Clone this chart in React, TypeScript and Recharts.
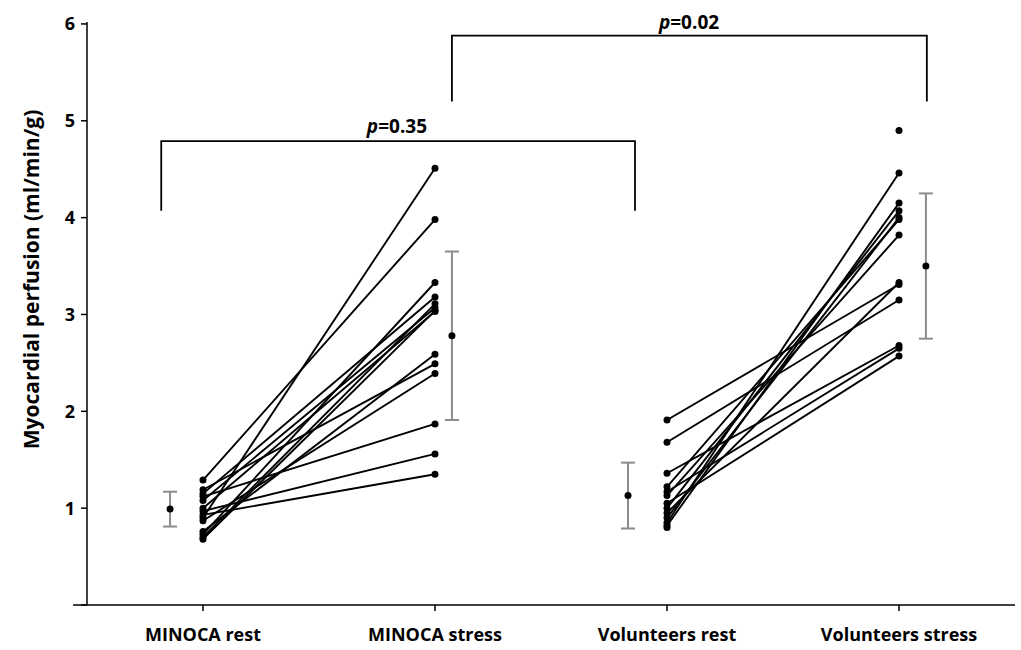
import React from 'react';
import { ComposedChart, Scatter, XAxis, YAxis, ErrorBar, ReferenceLine } from 'recharts';

const categories = ['MINOCA rest', 'MINOCA stress', 'Volunteers rest', 'Volunteers stress'];
const yTicks = [0, 1, 2, 3, 4, 5, 6];

// paired subjects: [rest, stress]
const minocaRest = [0.9, 1.29, 0.73, 1.15, 0.7, 1.08, 0.68, 1.0, 0.76, 1.19, 0.87, 1.12, 0.97, 0.93];
const minocaStress = [4.51, 3.98, 3.33, 3.18, 3.11, 3.07, 3.04, 3.03, 2.59, 2.49, 2.39, 1.87, 1.56, 1.35];
const volRest = [1.91, 1.68, 1.36, 1.22, 1.17, 1.13, 1.05, 1.0, 0.95, 0.9, 0.85, 0.82];
const volStress = [3.31, 3.15, 2.68, 3.98, 2.65, 3.82, 2.57, 4.07, 3.33, 4.0, 4.46, 4.15];
const unpairedPoints = [{ x: 3, y: 0.8 }, { x: 4, y: 4.9 }];

const means = [
  { x: 0.858, y: 0.99, err: [0.18, 0.18] },
  { x: 2.073, y: 2.78, err: [0.87, 0.87] },
  { x: 2.832, y: 1.13, err: [0.34, 0.34] },
  { x: 4.116, y: 3.5, err: [0.75, 0.75] },
];

const bracket1 = [{ x: 0.82, y: 4.07 }, { x: 0.82, y: 4.79 }, { x: 2.862, y: 4.79 }, { x: 2.862, y: 4.07 }];
const bracket2 = [{ x: 2.073, y: 5.2 }, { x: 2.073, y: 5.88 }, { x: 4.12, y: 5.88 }, { x: 4.12, y: 5.2 }];
const pLabels = [
  { x: 1.836, y: 4.95, text: '=0.35' },
  { x: 3.095, y: 6.02, text: '=0.02' },
];

const FONT = '"Open Sans", "Liberation Sans", sans-serif';

const Dot = (props: any) => <circle cx={props.cx} cy={props.cy} r={3.5} fill="#000" />;
const Nothing = () => <g />;
const PText = (props: any) => (
  <text
    x={props.cx}
    y={props.cy}
    textAnchor="middle"
    dominantBaseline="central"
    fontFamily={FONT}
    fontWeight="bold"
    fontSize={19}
    fill="#000"
  >
    <tspan fontStyle="italic">p</tspan>
    {props.payload.text}
  </text>
);

export default function App() {
  const pairs: { x: number; y: number }[][] = [];
  minocaRest.forEach((r, i) => pairs.push([{ x: 1, y: r }, { x: 2, y: minocaStress[i] }]));
  volRest.forEach((r, i) => pairs.push([{ x: 3, y: r }, { x: 4, y: volStress[i] }]));

  return (
    <div style={{ position: 'absolute', left: 0, top: 0, background: '#fff' }}>
      <ComposedChart width={1021} height={650} margin={{ top: 22, right: 6, bottom: 5, left: 0 }}>
        <XAxis
          type="number"
          dataKey="x"
          domain={[0.5, 4.5]}
          ticks={[1, 2, 3, 4]}
          tickFormatter={(v: number) => categories[v - 1]}
          height={40}
          tickSize={6}
          tickMargin={17}
          axisLine={{ stroke: '#000', strokeWidth: 1.5 }}
          tickLine={{ stroke: '#000', strokeWidth: 1.5 }}
          tick={{ fill: '#000', fontFamily: FONT, fontWeight: 'bold', fontSize: 18 }}
        />
        <YAxis
          type="number"
          dataKey="y"
          domain={[0, 6]}
          ticks={yTicks}
          tickFormatter={(v: number) => (v === 0 ? '' : String(v))}
          width={87}
          tickSize={6}
          tickMargin={6}
          axisLine={{ stroke: '#000', strokeWidth: 1.5 }}
          tickLine={{ stroke: '#000', strokeWidth: 1.5 }}
          tick={{ fill: '#000', fontFamily: FONT, fontWeight: 'bold', fontSize: 18 }}
          label={{
            value: 'Myocardial perfusion (ml/min/g)',
            angle: -90,
            position: 'insideLeft',
            offset: 32,
            dy: -34,
            style: { textAnchor: 'middle', fill: '#000', fontFamily: FONT, fontWeight: 'bold', fontSize: 21 },
          }}
        />
        <ReferenceLine
          segment={[{ x: 0.44, y: 0 }, { x: 0.5, y: 0 }]}
          stroke="#000"
          strokeWidth={1.5}
          ifOverflow="visible"
        />
        {pairs.map((p, i) => (
          <Scatter
            key={'pair' + i}
            data={p}
            line={{ stroke: '#000', strokeWidth: 1.9 }}
            shape={Dot}
            isAnimationActive={false}
          />
        ))}
        <Scatter data={unpairedPoints} shape={Dot} isAnimationActive={false} />
        <Scatter data={means} shape={Dot} isAnimationActive={false}>
          <ErrorBar dataKey="err" direction="y" width={7} stroke="#8c8c8c" strokeWidth={2} isAnimationActive={false} />
        </Scatter>
        <Scatter data={bracket1} line={{ stroke: '#000', strokeWidth: 1.8 }} shape={Nothing} isAnimationActive={false} />
        <Scatter data={bracket2} line={{ stroke: '#000', strokeWidth: 1.8 }} shape={Nothing} isAnimationActive={false} />
        <Scatter data={pLabels} shape={PText} isAnimationActive={false} />
      </ComposedChart>
    </div>
  );
}
